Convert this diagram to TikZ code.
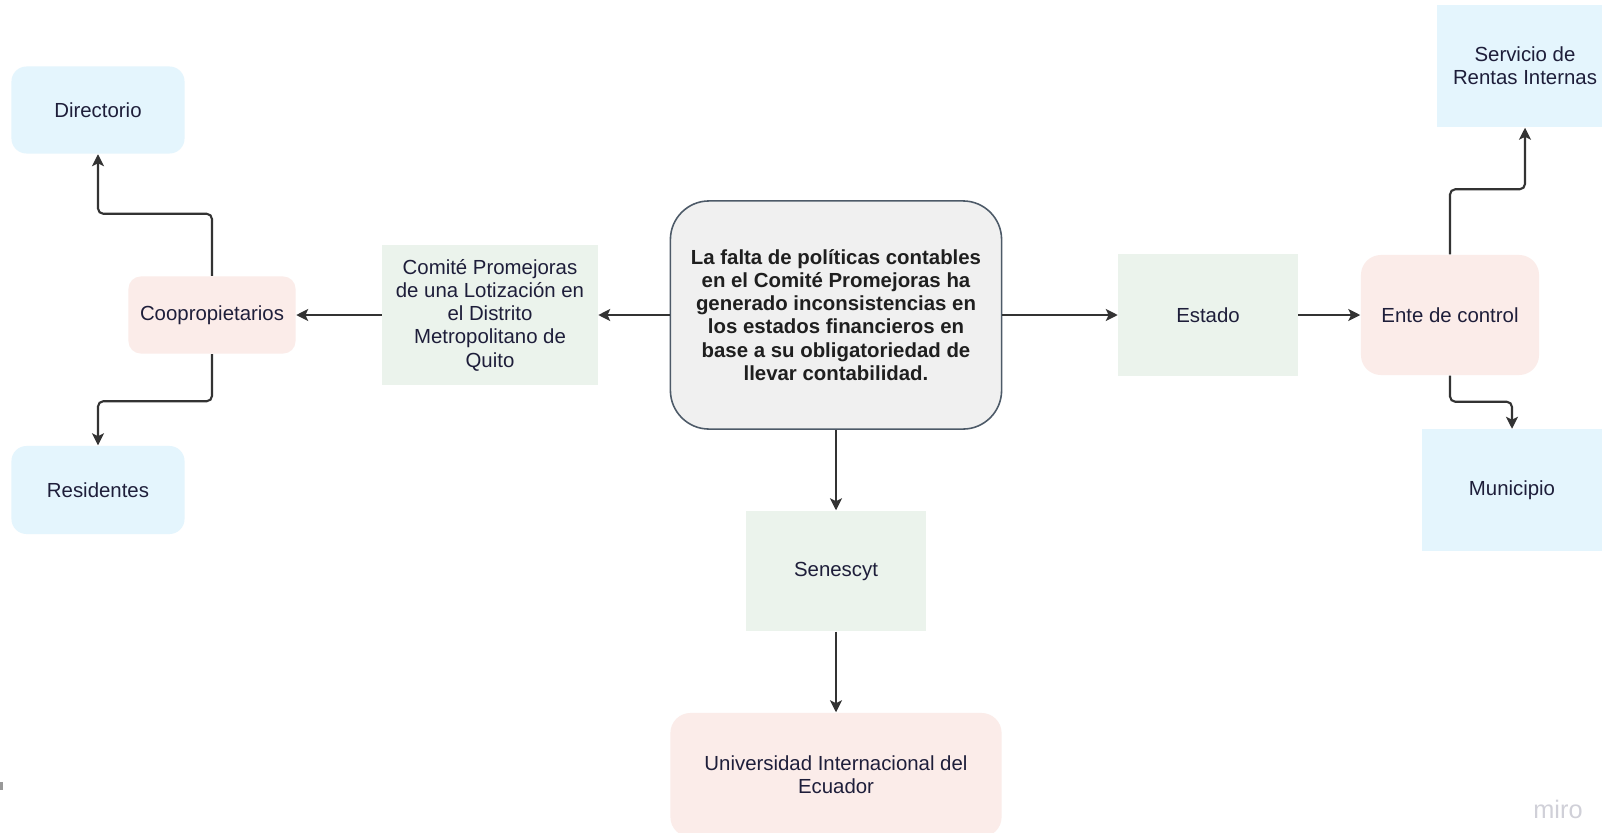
\documentclass[tikz,border=0pt]{standalone}
\usepackage{fontspec}
\setmainfont{Liberation Sans}
\usetikzlibrary{arrows.meta}
\definecolor{azulclaro}{HTML}{E4F5FD}
\definecolor{rosaclaro}{HTML}{FBECE9}
\definecolor{verdeclaro}{HTML}{EBF3EC}
\definecolor{grisfondo}{HTML}{F0F0F0}
\definecolor{bordeprob}{HTML}{4D5A68}
\definecolor{textoosc}{HTML}{1E1E3A}
\definecolor{flecha}{HTML}{333333}
\definecolor{marca}{HTML}{D0D0D8}
\begin{document}
\begin{tikzpicture}[x=0.01cm, y=-0.01cm,
  caja/.style={inner sep=0pt, align=center, text=textoosc, font=\fontsize{5.8pt}{6.6pt}\selectfont},
  azul/.style={caja, fill=azulclaro},
  rosa/.style={caja, fill=rosaclaro, rounded corners=4pt},
  verde/.style={caja, fill=verdeclaro},
  problema/.style={caja, fill=grisfondo, draw=bordeprob, line width=0.45pt, rounded corners=11pt, text=black!88, font=\fontsize{5.8pt}{6.6pt}\selectfont\bfseries},
  conexion/.style={draw=flecha, line width=0.6pt, rounded corners=1.5pt, -{Stealth[length=3.4pt, width=3.4pt, inset=0.8pt]}}]
\clip (0,0) rectangle (1602,833);
\fill[white] (0,0) rectangle (1602,833);
% centro
\node[problema, minimum width=3.31cm, minimum height=2.28cm] (prob) at (836,315) {La falta de políticas contables\\en el Comité Promejoras ha\\generado inconsistencias en\\los estados financieros en\\base a su obligatoriedad de\\llevar contabilidad.};
% izquierda
\node[verde, minimum width=2.15cm, minimum height=1.40cm] (comite) at (490,315) {Comité Promejoras\\de una Lotización en\\el Distrito\\Metropolitano de\\Quito};
\node[rosa, rounded corners=3.5pt, minimum width=1.67cm, minimum height=0.77cm] (coop) at (212,315) {Coopropietarios};
\node[azul, rounded corners=4.3pt, minimum width=1.73cm, minimum height=0.87cm] (dir) at (98,110) {Directorio};
\node[azul, rounded corners=4.3pt, minimum width=1.73cm, minimum height=0.88cm] (res) at (98,490) {Residentes};
% derecha
\node[verde, minimum width=1.79cm, minimum height=1.21cm] (estado) at (1208,315) {Estado};
\node[rosa, rounded corners=5.7pt, minimum width=1.78cm, minimum height=1.20cm] (ente) at (1450,315) {Ente de control};
\node[azul, minimum width=1.76cm, minimum height=1.22cm] (sri) at (1525,66) {Servicio de\\Rentas Internas};
\node[azul, minimum width=1.80cm, minimum height=1.21cm] (muni) at (1512,490) {Municipio};
% abajo
\node[verde, minimum width=1.79cm, minimum height=1.20cm] (sen) at (836,571) {Senescyt};
\node[rosa, rounded corners=5.7pt, minimum width=3.31cm, minimum height=1.24cm] (uide) at (836,775) {Universidad Internacional del\\Ecuador};
% flechas
\draw[conexion] (prob.west) -- (comite.east);
\draw[conexion] (comite.west) -- (coop.east);
\draw[conexion] (coop.north) -- ++(0,-62) -| (dir.south);
\draw[conexion] (coop.south) -- ++(0,47) -| (res.north);
\draw[conexion] (prob.east) -- (estado.west);
\draw[conexion] (estado.east) -- (ente.west);
\draw[conexion] (ente.north) -- ++(0,-65) -| (sri.south);
\draw[conexion] (ente.south) -- ++(0,26) -| (muni.north);
\draw[conexion] (prob.south) -- (sen.north);
\draw[conexion] (sen.south) -- (uide.north);
% marcas
\node[text=marca, font=\fontsize{7.2pt}{8pt}\selectfont, inner sep=0pt] (logo) at (1558,809) {miro};
\fill[black!40] (0,782) rectangle (3,790);
\end{tikzpicture}
\end{document}
